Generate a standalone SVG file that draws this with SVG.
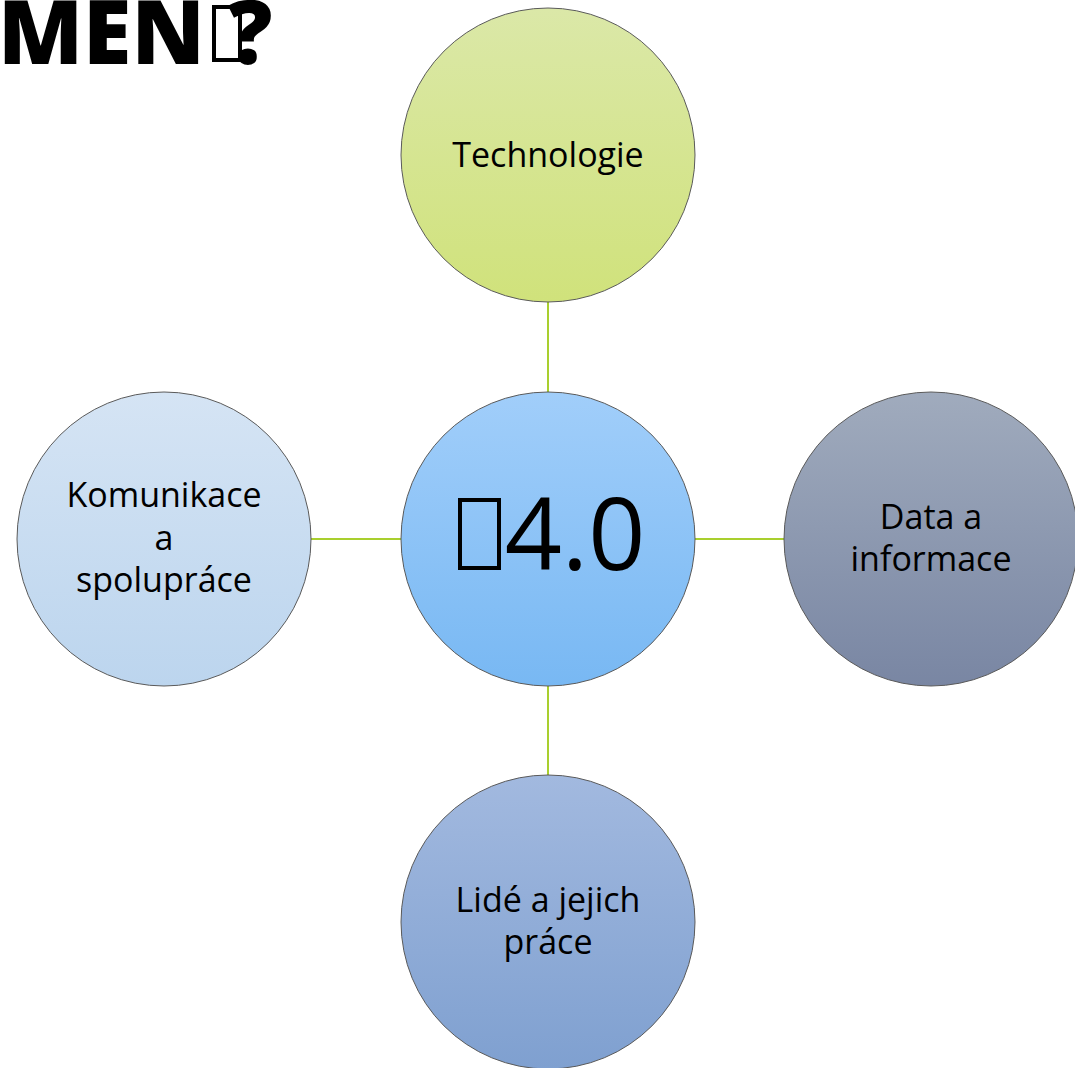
<svg xmlns="http://www.w3.org/2000/svg" width="1075" height="1068" viewBox="0 0 1075 1068">
<style>
.node{stroke:#5a5a5a;stroke-width:1}
.lbl{font-family:"Open Sans","Noto Sans","DejaVu Sans",sans-serif;font-size:34px;fill:#000;text-anchor:middle}
.big{font-size:100px}
.conn{stroke:#a9cf2e;stroke-width:2}
.tofu{fill:none;stroke:#000}
</style>
<defs>
<linearGradient id="gT" x1="0" y1="0" x2="0" y2="1"><stop offset="0" stop-color="#dbe8a8"/><stop offset="1" stop-color="#d0e27b"/></linearGradient>
<linearGradient id="gC" x1="0" y1="0" x2="0" y2="1"><stop offset="0" stop-color="#a1cefa"/><stop offset="1" stop-color="#78b8f3"/></linearGradient>
<linearGradient id="gL" x1="0" y1="0" x2="0" y2="1"><stop offset="0" stop-color="#d5e4f4"/><stop offset="1" stop-color="#bcd5ee"/></linearGradient>
<linearGradient id="gR" x1="0" y1="0" x2="0" y2="1"><stop offset="0" stop-color="#a0abbd"/><stop offset="1" stop-color="#7986a3"/></linearGradient>
<linearGradient id="gB" x1="0" y1="0" x2="0" y2="1"><stop offset="0" stop-color="#a2b9df"/><stop offset="1" stop-color="#7fa0d0"/></linearGradient>
</defs>
<rect width="1075" height="1068" fill="#fff"/>
<g id="title">
<rect class="tofu" x="214" y="7" width="26" height="53" stroke-width="4"/>
<text x="-2" y="64" font-family="'Open Sans','DejaVu Sans',sans-serif" font-weight="800" font-size="88" fill="#000">MEN&#xE000;<tspan dx="-28">?</tspan></text>
</g>
<g id="connectors">
<line class="conn" x1="548" y1="302" x2="548" y2="392"/>
<line class="conn" x1="548" y1="686" x2="548" y2="775"/>
<line class="conn" x1="311" y1="539" x2="401" y2="539"/>
<line class="conn" x1="695" y1="539" x2="784" y2="539"/>
</g>
<g id="node-technologie"><circle class="node" cx="548" cy="155" r="147" fill="url(#gT)"/><text class="lbl" x="548" y="167">Technologie</text></g>
<g id="node-center"><circle class="node" cx="548" cy="539" r="147" fill="url(#gC)"/><rect class="tofu" x="460" y="500" width="39" height="68" stroke-width="4"/><text class="lbl big" x="545" y="570">&#xE000;4.0</text></g>
<g id="node-komunikace"><circle class="node" cx="164" cy="539" r="147" fill="url(#gL)"/><text class="lbl" x="164" y="507">Komunikace</text><text class="lbl" x="164" y="550">a</text><text class="lbl" x="164" y="592">spolupráce</text></g>
<g id="node-data"><circle class="node" cx="931" cy="539" r="147" fill="url(#gR)"/><text class="lbl" x="931" y="529">Data a</text><text class="lbl" x="931" y="571">informace</text></g>
<g id="node-lide"><circle class="node" cx="548" cy="922" r="147" fill="url(#gB)"/><text class="lbl" x="548" y="912">Lidé a jejich</text><text class="lbl" x="548" y="954">práce</text></g>
</svg>
